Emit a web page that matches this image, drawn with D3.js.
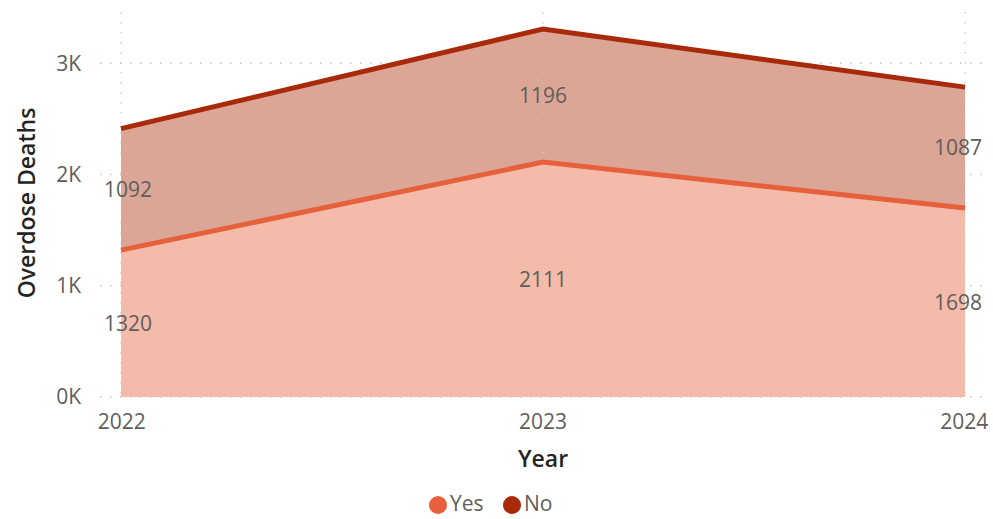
<!DOCTYPE html>
<html>
<head>
  <script src="https://d3js.org/d3.v7.min.js"></script>
  <style>
    body { margin: 0; background: #fff; }
    svg text { font-family: "Segoe UI", "Open Sans", sans-serif; }
    .tick-label { font-size: 21px; fill: #605E5C; }
    .data-label { font-size: 21px; fill: #605E5C; }
    .axis-title { font-size: 23px; font-weight: 600; fill: #252423; }
    .legend-text { font-size: 21px; fill: #605E5C; }
  </style>
</head>
<body>
  <svg id="chart" width="993" height="519"></svg>
  <script>
    // data
    const years = ["2022", "2023", "2024"];
    const yesValues = [1320, 2111, 1698];
    const noValues = [1092, 1196, 1087];
    const yTicks = [0, 1000, 2000, 3000];
    const yTickLabels = ["0K", "1K", "2K", "3K"];

    const rows = years.map((y, i) => ({ year: y, Yes: yesValues[i], No: noValues[i] }));
    const stack = d3.stack().keys(["Yes", "No"])(rows);

    const svg = d3.select("#chart");

    const x = d3.scalePoint().domain(years).range([121, 965]);
    const y = d3.scaleLinear().domain([0, 3460]).range([397, 12]);

    const colors = {
      Yes: { line: "#E6603C", fill: "#F4BAAA" },
      No: { line: "#A82A0B", fill: "#DBA696" }
    };

    // grid
    svg.append("g").selectAll("line").data(yTicks).enter().append("line")
      .attr("x1", 100).attr("x2", 985)
      .attr("y1", d => y(d)).attr("y2", d => y(d))
      .attr("stroke", "#C8C6C4").attr("stroke-width", 1.5)
      .attr("stroke-dasharray", "1.5,8.5");

    // areas
    const area = d3.area()
      .x(d => x(d.data.year))
      .y0(d => y(d[0]))
      .y1(d => y(d[1]));

    svg.append("g").selectAll("path").data(stack).enter().append("path")
      .attr("d", area)
      .attr("fill", d => colors[d.key].fill);

    // vertical grid on top of areas (dotted)
    svg.append("g").selectAll("line").data(years).enter().append("line")
      .attr("x1", d => x(d)).attr("x2", d => x(d))
      .attr("y1", 12).attr("y2", 397)
      .attr("stroke", "#C8C6C4").attr("stroke-opacity", 0.8).attr("stroke-width", 1.5)
      .attr("stroke-dasharray", "1.5,8.5");

    // lines
    const line = d3.line()
      .x(d => x(d.data.year))
      .y(d => y(d[1]));

    svg.append("g").selectAll("path").data(stack).enter().append("path")
      .attr("d", line)
      .attr("fill", "none")
      .attr("stroke", d => colors[d.key].line)
      .attr("stroke-width", 5);

    // data labels (centered in each band)
    const labelShift = [7, 0, -7];
    stack.forEach(s => {
      svg.append("g").selectAll("text").data(s).enter().append("text")
        .attr("class", "data-label")
        .attr("x", (d, i) => x(d.data.year) + labelShift[i])
        .attr("y", d => y((d[0] + d[1]) / 2))
        .attr("dy", "0.35em")
        .attr("text-anchor", "middle")
        .text(d => d.data[s.key]);
    });

    // y tick labels
    svg.append("g").selectAll("text").data(yTicks).enter().append("text")
      .attr("class", "tick-label")
      .attr("x", 81)
      .attr("y", d => y(d))
      .attr("dy", "0.35em")
      .attr("text-anchor", "end")
      .text((d, i) => yTickLabels[i]);

    // x tick labels
    svg.append("g").selectAll("text").data(years).enter().append("text")
      .attr("class", "tick-label")
      .attr("x", (d, i) => x(d) + labelShift[i] * 0.1)
      .attr("y", 422)
      .attr("dy", "0.35em")
      .attr("text-anchor", "middle")
      .text(d => d);

    // axis titles
    svg.append("text").attr("class", "axis-title")
      .attr("x", 543).attr("y", 459).attr("dy", "0.35em")
      .attr("text-anchor", "middle").text("Year");

    svg.append("text").attr("class", "axis-title")
      .attr("transform", "translate(27,203) rotate(-90)")
      .attr("dy", "0.35em")
      .attr("text-anchor", "middle").text("Overdose Deaths");

    // legend
    const legendItems = [
      { key: "Yes", cx: 438 },
      { key: "No", cx: 512 }
    ];
    const lg = svg.append("g").selectAll("g").data(legendItems).enter().append("g");
    lg.append("circle")
      .attr("cx", d => d.cx).attr("cy", 505).attr("r", 9)
      .attr("fill", d => colors[d.key].line);
    lg.append("text").attr("class", "legend-text")
      .attr("x", d => d.cx + 12).attr("y", 504).attr("dy", "0.35em")
      .text(d => d.key);
  </script>
</body>
</html>
